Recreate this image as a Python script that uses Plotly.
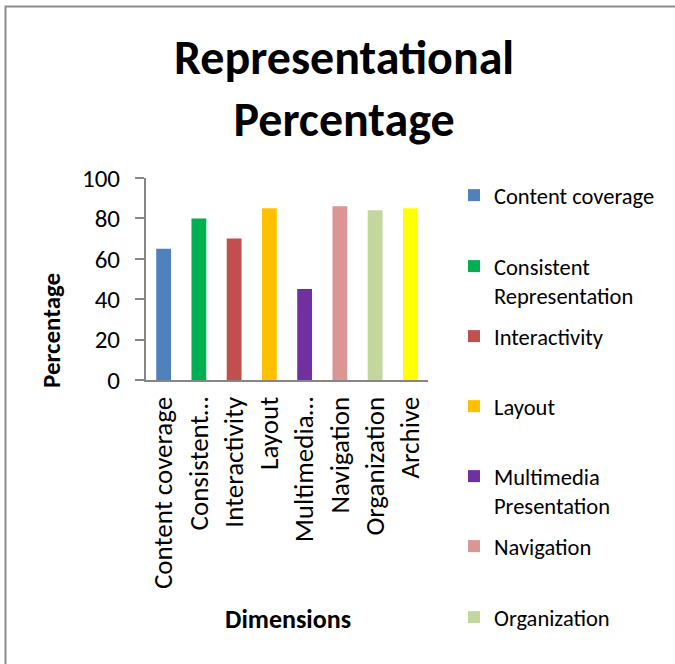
import plotly.graph_objects as go

categories = ["Content coverage", "Consistent Representation", "Interactivity", "Layout",
              "Multimedia Presentation", "Navigation", "Organization", "Archive"]
tick_labels = ["Content coverage", "Consistent…", "Interactivity", "Layout",
               "Multimedia…", "Navigation", "Organization", "Archive"]
legend_labels = ["Content coverage", "Consistent<br>Representation", "Interactivity", "Layout",
                 "Multimedia<br>Presentation", "Navigation", "Organization", "Archive"]
values = [65, 80, 70, 85, 45, 86, 84, 85]
colors = ["#4F81BD", "#00B050", "#C0504D", "#FFC000", "#7030A0", "#D99694", "#C3D69B", "#FFFF00"]

W, H = 675, 664
L, R, T, B = 146, 428, 178, 380
FONT = "Calibri, Carlito, Lato, sans-serif"


def px(x):
    return (x - L) / (R - L)


def py(y):
    return (B - y) / (B - T)


fig = go.Figure()
legend_tops = [174, 245, 315, 385, 455, 525, 596]
for i, (cat, val, col) in enumerate(zip(categories, values, colors)):
    lg = "legend" if i == 0 else f"legend{i + 1}"
    fig.add_trace(go.Bar(
        x=[cat], y=[val], name=legend_labels[i], marker_color=col,
        marker_line_width=0, width=0.42,
        showlegend=i < len(legend_tops), legend=lg if i < len(legend_tops) else "legend",
    ))

layout_legends = {}
for i, top in enumerate(legend_tops):
    key = "legend" if i == 0 else f"legend{i + 1}"
    layout_legends[key] = dict(
        x=px(454), xanchor="left", y=py(top), yanchor="top",
        font=dict(family=FONT, size=22.5, color="#000"),
        bgcolor="rgba(0,0,0,0)", itemwidth=30, valign="top",
        itemclick=False, itemdoubleclick=False, visible=True,
    )

fig.update_layout(
    width=W, height=H,
    margin=dict(l=L, r=W - R, t=T, b=H - B),
    paper_bgcolor="white", plot_bgcolor="white",
    barmode="overlay", showlegend=True,
    font=dict(family=FONT, color="#000"),
    xaxis=dict(
        categoryorder="array", categoryarray=categories,
        tickmode="array", tickvals=categories, ticktext=tick_labels,
        tickangle=-90, tickfont=dict(size=27, color="#000"),
        showline=True, linecolor="#868686", linewidth=2,
        showgrid=False, ticks="", zeroline=False,
        ticklabelstandoff=4,
    ),
    yaxis=dict(
        range=[0, 100], tickvals=[0, 20, 40, 60, 80, 100],
        tickfont=dict(size=25, color="#000"),
        showline=True, linecolor="#868686", linewidth=2,
        ticks="outside", ticklen=9, tickcolor="#868686", tickwidth=2,
        ticklabelstandoff=10,
        showgrid=False, zeroline=False,
    ),
    annotations=[
        dict(text="<b>Representational<br>Percentage</b>", xref="paper", yref="paper",
             x=px(344), y=py(88), xanchor="center", yanchor="middle", showarrow=False,
             font=dict(family=FONT, size=48, color="#000")),
        dict(text="<b>Percentage</b>", xref="paper", yref="paper",
             x=px(51), y=py(331), xanchor="center", yanchor="middle", showarrow=False,
             textangle=-90, font=dict(family=FONT, size=25, color="#000")),
        dict(text="<b>Dimensions</b>", xref="paper", yref="paper",
             x=px(288), y=py(619), xanchor="center", yanchor="middle", showarrow=False,
             font=dict(family=FONT, size=26, color="#000")),
    ],
    shapes=[
        dict(type="rect", xref="paper", yref="paper",
             x0=px(5.5), x1=px(690), y0=py(680), y1=py(6.5),
             line=dict(color="#8C8C8C", width=2), fillcolor="rgba(0,0,0,0)", layer="below"),
    ],
    **layout_legends,
)

fig.write_html(
    "out.html",
    config={"displayModeBar": False},
    post_script="document.body.style.margin='0';document.body.style.overflow='hidden';",
)
